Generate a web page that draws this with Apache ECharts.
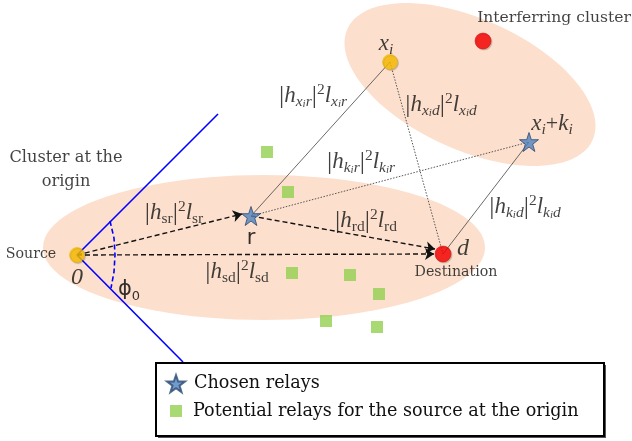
<!DOCTYPE html>
<html>
<head>
<meta charset="utf-8">
<script src="https://cdn.jsdelivr.net/npm/echarts@6.0.0/dist/echarts.min.js"></script>
<style>
html,body{margin:0;padding:0;background:#fff}
#main{width:632px;height:441px}
</style>
</head>
<body>
<div id="main"></div>
<script>
// cluster ellipses: [cx, cy, rx, ry, rotation deg]
var clusters = [[264, 247.5, 221, 72.5, 0], [470, 84.5, 134.6, 65.4, 24.4]]
var sourceNodes = [[77, 255], [390, 62]]
var destNodes = [[443, 254], [483, 41]]
var chosenRelays = [[251, 216], [529, 142]]
var potentialRelays = [[267, 152], [288, 192], [292, 273], [350, 275], [379, 294], [326, 321], [377, 327]]

var arrowLinks = [[[77, 255], [242, 214]], [[77, 255], [434, 254]], [[251, 216], [435, 249]]]
var solidLinks = [[[251, 216], [390, 62]], [[529, 142], [443, 254]]]
var dottedLinks = [[[251, 216], [529, 142]], [[390, 62], [443, 254]]]
var beamLines = [[[77, 255], [218, 114]], [[77, 255], [183, 362]]]
var beamArc = [[110, 221], [114, 238], [115, 255], [114, 272], [111, 288]]

var labelPos = [[66, 158], [66, 182], [31, 254], [77, 278], [129, 290], [251, 239], [463, 249], [456, 272],
	[386, 44], [552, 124], [554, 18], [174, 213], [366, 221], [237, 272], [361, 162], [313, 96], [441, 105], [525, 207]]
var labelText = [
	'{c|Cluster at the}', '{c|origin}', '{t|Source}', '{b|0}', '{sf|ϕ}{sfs|0}', '{sf|r}', '{b|d}', '{t|Destination}',
	'{i|x}{si|i}', '{i|x}{si|i}{n|+}{i|k}{si|i}', '{ic|Interferring cluster}',
	'{v||}{i|h}{s|sr}{v||}{p|2}{i|l}{s|sr}',
	'{v||}{i|h}{s|rd}{v||}{p|2}{i|l}{s|rd}',
	'{v||}{i|h}{s|sd}{v||}{p|2}{i|l}{s|sd}',
	'{v||}{i|h}{si|k}{ss|i}{si|r}{v||}{p|2}{i|l}{si|k}{ss|i}{si|r}',
	'{v||}{i|h}{si|x}{ss|i}{si|r}{v||}{p|2}{i|l}{si|x}{ss|i}{si|r}',
	'{v||}{i|h}{si|x}{ss|i}{si|d}{v||}{p|2}{i|l}{si|x}{ss|i}{si|d}',
	'{v||}{i|h}{si|k}{ss|i}{si|d}{v||}{p|2}{i|l}{si|k}{ss|i}{si|d}'
]

var legendNames = ['Chosen relays', 'Potential relays for the source at the origin']
var starPath = 'path://M50,2 L61.5,36 L97,36 L68.5,57.5 L79,92 L50,71 L21,92 L31.5,57.5 L3,36 L38.5,36 Z'

var serif = 'DejaVu Serif'
var math = 'Liberation Serif'
var txt = '#111'
var rich = {
	c: {fontFamily: serif, fontSize: 16.2, color: txt, lineHeight: 24},
	ic: {fontFamily: serif, fontSize: 15.6, color: txt, lineHeight: 24},
	t: {fontFamily: serif, fontSize: 14.2, color: txt, lineHeight: 18},
	b: {fontFamily: math, fontStyle: 'italic', fontSize: 24, color: txt, lineHeight: 26},
	sf: {fontFamily: 'DejaVu Sans', fontSize: 21, color: '#000', lineHeight: 26},
	sfs: {fontFamily: 'DejaVu Sans', fontSize: 13, color: '#000', lineHeight: 12, verticalAlign: 'bottom'},
	n: {fontFamily: math, fontSize: 22, color: txt, lineHeight: 28},
	v: {fontFamily: math, fontSize: 26, color: txt, lineHeight: 28},
	i: {fontFamily: math, fontStyle: 'italic', fontSize: 23, color: txt, lineHeight: 28},
	s: {fontFamily: math, fontSize: 15.5, color: txt, lineHeight: 15, verticalAlign: 'bottom'},
	si: {fontFamily: math, fontStyle: 'italic', fontSize: 15.5, color: txt, lineHeight: 15, verticalAlign: 'bottom'},
	ss: {fontFamily: math, fontStyle: 'italic', fontSize: 11, color: txt, lineHeight: 8, verticalAlign: 'bottom'},
	p: {fontFamily: math, fontSize: 15.5, color: txt, lineHeight: 15, verticalAlign: 'top'}
}

var labelData = labelPos.map(function (p, k) {
	return {value: p, name: labelText[k]}
})

function renderCluster(params, api) {
	var cx = api.value(0), cy = api.value(1), a = api.value(2), b = api.value(3)
	var ang = api.value(4) * Math.PI / 180
	var pts = []
	for (var k = 0; k < 96; k++) {
		var t = k / 96 * 2 * Math.PI
		var x = cx + a * Math.cos(t) * Math.cos(ang) - b * Math.sin(t) * Math.sin(ang)
		var y = cy + a * Math.cos(t) * Math.sin(ang) + b * Math.sin(t) * Math.cos(ang)
		pts.push(api.coord([x, y]))
	}
	return {type: 'polygon', shape: {points: pts}, style: {fill: '#fce0cd'}}
}

var chart = echarts.init(document.getElementById('main'))
var option = {
	animation: false,
	backgroundColor: '#fff',
	grid: {left: 0, right: 0, top: 0, bottom: 0},
	xAxis: {type: 'value', min: 0, max: 632, show: false},
	yAxis: {type: 'value', min: 0, max: 441, inverse: true, show: false},
	legend: [{
		z: 6, orient: 'vertical', left: 166, top: 374, padding: 0,
		itemWidth: 18, itemHeight: 18, selectedMode: false,
		textStyle: {fontFamily: serif, fontSize: 17.6, color: txt, padding: [0, 0, 0, 4]},
		data: [{name: legendNames[0], icon: starPath}]
	}, {
		z: 6, orient: 'vertical', left: 170, top: 402, padding: 0,
		itemWidth: 12, itemHeight: 12, selectedMode: false,
		textStyle: {fontFamily: serif, fontSize: 17.6, color: txt, padding: [0, 0, 0, 6]},
		data: [{name: legendNames[1], icon: 'rect'}]
	}],
	graphic: {elements: [{
		type: 'rect', z: 5, left: 158, top: 365,
		shape: {width: 448, height: 73},
		style: {fill: '#555'}
	}, {
		type: 'rect', z: 5, left: 155, top: 362,
		shape: {width: 448, height: 73},
		style: {fill: '#fff', stroke: '#000', lineWidth: 2}
	}]},
	series: [
		{type: 'custom', z: 1, silent: true, renderItem: renderCluster, data: clusters},
		{type: 'lines', coordinateSystem: 'cartesian2d', z: 2, silent: true,
			lineStyle: {color: '#0000ff', width: 1.6, opacity: 1},
			data: beamLines.map(function (c) { return {coords: c} })},
		{type: 'lines', coordinateSystem: 'cartesian2d', polyline: true, z: 2, silent: true,
			lineStyle: {color: '#0000ff', width: 1.6, type: [5, 3], opacity: 1},
			data: [{coords: beamArc}]},
		{type: 'lines', coordinateSystem: 'cartesian2d', z: 2, silent: true,
			symbol: ['none', 'arrow'], symbolSize: 9,
			lineStyle: {color: '#111', width: 1.4, type: [5, 3], opacity: 1},
			data: arrowLinks.map(function (c) { return {coords: c} })},
		{type: 'lines', coordinateSystem: 'cartesian2d', z: 2, silent: true,
			lineStyle: {color: '#444', width: 0.8, opacity: 1},
			data: solidLinks.map(function (c) { return {coords: c} })},
		{type: 'lines', coordinateSystem: 'cartesian2d', z: 2, silent: true,
			lineStyle: {color: '#444', width: 0.9, type: [1.5, 1.5], opacity: 1},
			data: dottedLinks.map(function (c) { return {coords: c} })},
		{name: 'sources', type: 'scatter', z: 3, symbolSize: 15,
			itemStyle: {color: '#ffc000', borderColor: '#e8b000', borderWidth: 0.6, shadowColor: 'rgba(0,0,0,0.25)', shadowOffsetX: 1, shadowOffsetY: 1, shadowBlur: 1},
			data: sourceNodes},
		{name: 'destinations', type: 'scatter', z: 3, symbolSize: 16,
			itemStyle: {color: '#ff0000', borderColor: '#d00000', borderWidth: 0.6, shadowColor: 'rgba(0,0,0,0.25)', shadowOffsetX: 1, shadowOffsetY: 1, shadowBlur: 1},
			data: destNodes},
		{name: legendNames[0], type: 'scatter', z: 3, symbol: starPath, symbolSize: 19,
			itemStyle: {color: '#4f81bd', borderColor: '#2c4a72', borderWidth: 1},
			data: chosenRelays},
		{name: legendNames[1], type: 'scatter', z: 3, symbol: 'rect', symbolSize: 12,
			itemStyle: {color: '#92d050'},
			data: potentialRelays},
		{name: 'labels', type: 'scatter', z: 4, silent: true, symbolSize: 0,
			label: {show: true, position: 'inside', formatter: '{b}', rich: rich, align: 'center', verticalAlign: 'middle'},
			data: labelData}
	]
}
chart.setOption(option)
</script>
</body>
</html>
